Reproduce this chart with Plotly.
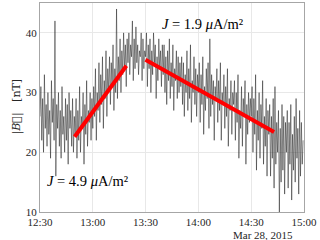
import pandas as pd
import plotly.graph_objects as go

# |B| samples every 30 s from 12:30 to 15:00
b_values = [
    26,31,22,29,20,33,24,28,21,30,23,27,19,32,25,29,22,42,16,28,
    24,30,21,27,19,31,23,26,20,29,22,28,18,30,24,27,21,29,20,26,
    23,29,19,27,22,31,20,26,24,30,18,28,23,32,21,27,25,30,22,29,
    24,31,26,34,22,30,27,35,25,33,28,36,24,32,29,37,26,34,30,36,
    28,35,31,38,27,34,30,44,29,36,32,39,30,37,33,40,34,38,31,39,
    35,40,33,38,36,42,32,39,34,41,35,38,33,37,36,40,32,39,34,37,
    36,40,31,38,34,39,30,37,33,40,35,38,29,36,32,39,34,37,31,38,
    33,38,30,36,28,37,32,39,29,35,31,38,27,34,32,37,29,36,30,35,
    31,36,28,35,26,33,30,37,27,34,29,38,25,32,30,36,28,34,26,33,
    30,35,25,33,28,36,23,31,27,34,29,35,24,39,26,33,28,32,22,31,
    29,34,25,32,27,35,22,30,28,33,24,31,26,34,21,29,27,32,23,30,
    28,32,22,30,25,33,19,27,24,31,21,29,26,32,18,28,23,30,25,29,
    26,31,20,29,23,33,17,27,22,30,19,28,24,32,18,26,21,29,16,27,
    23,28,16,26,19,29,14,31,18,25,20,27,10,24,15,28,17,26,13,25,
    20,27,14,25,18,28,12,23,17,26,15,29,19,24,13,27,16,25,18,22,
]
b_times = pd.date_range("2015-03-28 12:30:00", periods=len(b_values), freq="30s")

# Fitted slopes
fit1_t = ["2015-03-28 12:49:40", "2015-03-28 13:19:05"]
fit1_v = [22.6, 34.5]
fit2_t = ["2015-03-28 13:29:55", "2015-03-28 14:43:00"]
fit2_v = [35.5, 23.4]

tick_vals = ["2015-03-28 12:30", "2015-03-28 13:00", "2015-03-28 13:30",
             "2015-03-28 14:00", "2015-03-28 14:30", "2015-03-28 15:00"]
tick_text = ["12:30", "13:00", "13:30", "14:00", "14:30", "15:00"]
y_ticks = [10, 20, 30, 40]

FONT = "Liberation Serif"

fig = go.Figure()
fig.add_trace(go.Scatter(x=b_times, y=b_values, mode="lines",
                         line=dict(color="#1a1a1a", width=0.5), showlegend=False))
fig.add_trace(go.Scatter(x=fit1_t, y=fit1_v, mode="lines",
                         line=dict(color="#ff0000", width=4), showlegend=False))
fig.add_trace(go.Scatter(x=fit2_t, y=fit2_v, mode="lines",
                         line=dict(color="#ff0000", width=4), showlegend=False))

axis_common = dict(showline=True, linecolor="#a6a6a6", linewidth=1, mirror=True,
                   showgrid=True, gridcolor="#e8e8e8", gridwidth=1, zeroline=False,
                   ticks="", tickfont=dict(family=FONT, size=11, color="#262626"))
fig.update_xaxes(type="date", range=["2015-03-28 12:30", "2015-03-28 15:00"],
                 tickvals=tick_vals, ticktext=tick_text, **axis_common)
fig.update_yaxes(range=[10, 45], tickvals=y_ticks, **axis_common)

fig.add_annotation(x="2015-03-28 12:32:40", y=15.2, xref="x", yref="y",
                   text="<i>J</i> = 4.9 <i>μ</i>A/m²", showarrow=False,
                   xanchor="left", yanchor="middle",
                   font=dict(family=FONT, size=14.5, color="black"))
fig.add_annotation(x="2015-03-28 13:38:00", y=41.5, xref="x", yref="y",
                   text="<i>J</i> = 1.9 <i>μ</i>A/m²", showarrow=False,
                   xanchor="left", yanchor="middle",
                   font=dict(family=FONT, size=14.5, color="black"))
fig.add_annotation(x=-0.121, y=0.505, xref="paper", yref="paper",
                   text="|<i>B\u20d7</i>|\u00a0\u00a0\u00a0[nT]", showarrow=False,
                   textangle=-90, font=dict(family="DejaVu Serif", size=11, color="#262626"))
fig.add_annotation(x=0.843, y=-0.112, xref="paper", yref="paper",
                   text="Mar 28, 2015", showarrow=False, xanchor="center", yanchor="middle",
                   font=dict(family=FONT, size=11, color="#262626"))

fig.update_layout(width=320, height=240, margin=dict(l=40, r=16, t=3, b=28, autoexpand=False),
                  plot_bgcolor="white", paper_bgcolor="white")
fig.write_html("out.html", config={"displayModeBar": False},
               post_script="document.body.style.margin='0';")
